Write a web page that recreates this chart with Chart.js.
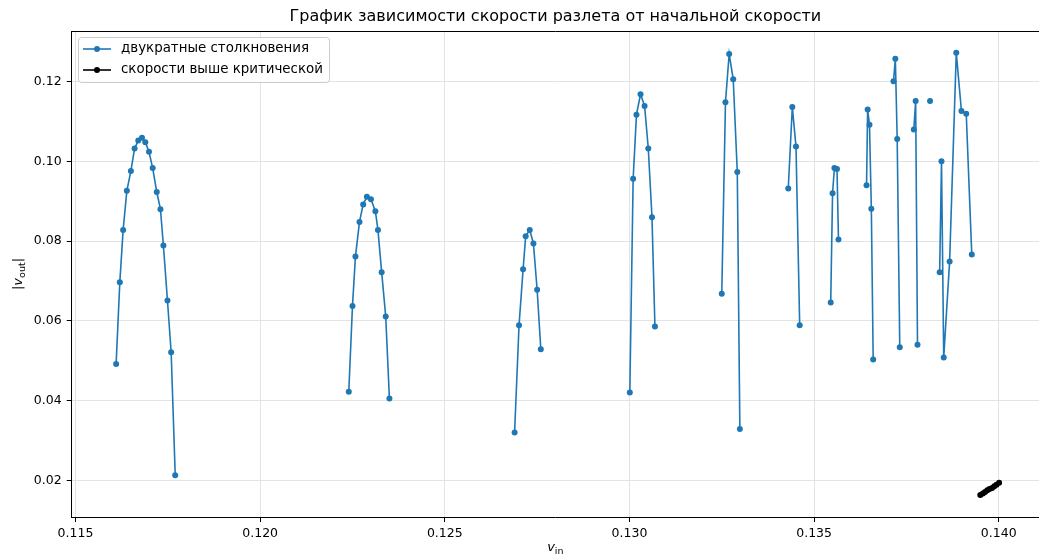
<!DOCTYPE html>
<html>
<head>
<meta charset="utf-8">
<script src="https://cdn.jsdelivr.net/npm/chart.js@4/dist/chart.umd.min.js"></script>
<style>
  html, body { margin: 0; padding: 0; background: #fff; }
  canvas { display: block; }
</style>
</head>
<body>
<canvas id="c" width="1039" height="556"></canvas>
<script>
// Initial speed v_in and scatter speed |v_out| for double collisions.
// null entries separate the branches so the line breaks between them.
const vIn = [
  0.11610, 0.11620, 0.11629, 0.11639, 0.11650, 0.11660, 0.11670, 0.11680, 0.11689,
  0.11699, 0.11709, 0.11720, 0.11730, 0.11738, 0.11749, 0.11759, 0.11770,
  null,
  0.12240, 0.12250, 0.12258, 0.12269, 0.12279, 0.12289, 0.12300, 0.12312, 0.12319,
  0.12329, 0.12340, 0.12350,
  null,
  0.12689, 0.12701, 0.12712, 0.12719, 0.12730, 0.12740, 0.12750, 0.12760,
  null,
  0.13001, 0.13010, 0.13019, 0.13030, 0.13041, 0.13051, 0.13061, 0.13069,
  null,
  0.13250, 0.13260, 0.13270, 0.13281, 0.13292, 0.13299,
  null,
  0.13430, 0.13441, 0.13451, 0.13461,
  null,
  0.13545, 0.13550, 0.13555, 0.13562, 0.13566,
  null,
  0.13642, 0.13645, 0.13650, 0.13655, 0.13660,
  null,
  0.13715, 0.13720, 0.13725, 0.13732,
  null,
  0.13770, 0.13775, 0.13780,
  null,
  0.13814,
  null,
  0.13840, 0.13845, 0.13851, 0.13867, 0.13885, 0.13899, 0.13912, 0.13927
];
const vOut = [
  0.0492, 0.0697, 0.0828, 0.0926, 0.0976, 0.1032, 0.1052, 0.1059, 0.1048,
  0.1024, 0.0983, 0.0923, 0.0880, 0.0789, 0.0651, 0.0521, 0.0213,
  null,
  0.0422, 0.0637, 0.0761, 0.0848, 0.0892, 0.0911, 0.0905, 0.0875, 0.0828,
  0.0722, 0.0611, 0.0405,
  null,
  0.0320, 0.0589, 0.0729, 0.0812, 0.0828, 0.0794, 0.0678, 0.0529,
  null,
  0.0420, 0.0956, 0.1117, 0.1168, 0.1139, 0.1032, 0.0860, 0.0586,
  null,
  0.0668, 0.1148, 0.1269, 0.1206, 0.0973, 0.0329,
  null,
  0.0932, 0.1136, 0.1037, 0.0589,
  null,
  0.0646, 0.0920, 0.0983, 0.0981, 0.0804,
  null,
  0.0940, 0.1130, 0.1092, 0.0881, 0.0503,
  null,
  0.1201, 0.1257, 0.1056, 0.0534,
  null,
  0.1080, 0.1151, 0.0540,
  null,
  0.1151,
  null,
  0.0722, 0.1000, 0.0508, 0.0749, 0.1272, 0.1126, 0.1119, 0.0766
];

// Speeds above the critical one
const vInCrit  = [0.13950, 0.13957, 0.13963, 0.13969, 0.13975, 0.13982, 0.13988, 0.13994, 0.14001];
const vOutCrit = [0.0163, 0.0167, 0.0171, 0.0175, 0.0178, 0.0181, 0.0185, 0.0189, 0.0194];

const seriesLabels = ['двукратные столкновения', 'скорости выше критической'];
const titleText = 'График зависимости скорости разлета от начальной скорости';

const xTicks = [0.115, 0.120, 0.125, 0.130, 0.135, 0.140];
const yTicks = [0.02, 0.04, 0.06, 0.08, 0.10, 0.12];

const FONT = 'DejaVu Sans';
const BLUE = '#1f77b4';

const toPoints = (xs, ys) => xs.map((x, i) => ({ x: x, y: ys[i] }));

// Title, axis labels, top spine and legend box
const decor = {
  id: 'decor',
  afterDraw(chart) {
    const ctx = chart.ctx;
    const a = chart.chartArea;
    ctx.save();

    // top spine
    ctx.strokeStyle = '#000';
    ctx.lineWidth = 1;
    ctx.beginPath();
    ctx.moveTo(a.left, a.top + 0.5);
    ctx.lineTo(a.right, a.top + 0.5);
    ctx.stroke();

    // title
    ctx.fillStyle = '#000';
    ctx.font = '16px "' + FONT + '"';
    ctx.textAlign = 'center';
    ctx.textBaseline = 'middle';
    ctx.fillText(titleText, (a.left + a.right) / 2, 17);

    // x axis label: v_in
    const cx = (a.left + a.right) / 2;
    ctx.textBaseline = 'alphabetic';
    ctx.textAlign = 'left';
    ctx.font = 'italic 13px "' + FONT + '"';
    const wv = ctx.measureText('v').width;
    ctx.font = '9.5px "' + FONT + '"';
    const wIn = ctx.measureText('in').width;
    let x0 = cx - (wv + wIn) / 2;
    ctx.font = 'italic 13px "' + FONT + '"';
    ctx.fillText('v', x0, 551);
    ctx.font = '9.5px "' + FONT + '"';
    ctx.fillText('in', x0 + wv, 554);

    // y axis label: |v_out|
    ctx.save();
    ctx.translate(22, (a.top + a.bottom) / 2);
    ctx.rotate(-Math.PI / 2);
    ctx.font = '13px "' + FONT + '"';
    const wBar = ctx.measureText('|').width;
    ctx.font = 'italic 13px "' + FONT + '"';
    const wv2 = ctx.measureText('v').width;
    ctx.font = '9.5px "' + FONT + '"';
    const wOut = ctx.measureText('out').width;
    const total = 2 * wBar + wv2 + wOut;
    let px = -total / 2;
    ctx.font = '13px "' + FONT + '"';
    ctx.fillText('|', px, 0); px += wBar;
    ctx.font = 'italic 13px "' + FONT + '"';
    ctx.fillText('v', px, 0); px += wv2;
    ctx.font = '9.5px "' + FONT + '"';
    ctx.fillText('out', px, 3); px += wOut;
    ctx.font = '13px "' + FONT + '"';
    ctx.fillText('|', px, 0);
    ctx.restore();

    // legend
    const bx = 78.5, by = 37.5, bw = 251, bh = 45, r = 3;
    ctx.fillStyle = 'rgba(255,255,255,0.8)';
    ctx.strokeStyle = '#cccccc';
    ctx.lineWidth = 1;
    ctx.beginPath();
    ctx.roundRect(bx, by, bw, bh, r);
    ctx.fill();
    ctx.stroke();

    const rows = [
      { y: 49, color: BLUE, label: seriesLabels[0] },
      { y: 70, color: '#000', label: seriesLabels[1] }
    ];
    rows.forEach(row => {
      ctx.strokeStyle = row.color;
      ctx.lineWidth = 1.6;
      ctx.beginPath();
      ctx.moveTo(83, row.y);
      ctx.lineTo(111, row.y);
      ctx.stroke();
      ctx.fillStyle = row.color;
      ctx.beginPath();
      ctx.arc(97, row.y, 3, 0, Math.PI * 2);
      ctx.fill();
      ctx.fillStyle = '#000';
      ctx.font = '13.4px "' + FONT + '"';
      ctx.textAlign = 'left';
      ctx.textBaseline = 'middle';
      ctx.fillText(row.label, 121, row.y);
    });

    ctx.restore();
  }
};

new Chart(document.getElementById('c'), {
  type: 'line',
  data: {
    datasets: [
      {
        label: seriesLabels[0],
        data: toPoints(vIn, vOut),
        borderColor: BLUE,
        backgroundColor: BLUE,
        borderWidth: 1.6,
        pointRadius: 3,
        pointBorderWidth: 0,
        pointBackgroundColor: BLUE,
        spanGaps: false,
        tension: 0
      },
      {
        label: seriesLabels[1],
        data: toPoints(vInCrit, vOutCrit),
        borderColor: '#000',
        backgroundColor: '#000',
        borderWidth: 1.6,
        pointRadius: 3,
        pointBorderWidth: 0,
        pointBackgroundColor: '#000',
        tension: 0
      }
    ]
  },
  options: {
    responsive: false,
    animation: false,
    devicePixelRatio: 1,
    layout: { autoPadding: false, padding: { top: 31, left: 0, right: 0, bottom: 0 } },
    plugins: {
      legend: { display: false },
      title: { display: false },
      tooltip: { enabled: false }
    },
    scales: {
      x: {
        type: 'linear',
        min: 0.114897,
        max: 0.14109,
        afterFit(s) { s.height = 39; },
        afterBuildTicks(s) { s.ticks = xTicks.map(v => ({ value: v })); },
        ticks: {
          padding: 4,
          color: '#000',
          font: { family: FONT, size: 12.5 },
          maxRotation: 0,
          autoSkip: false,
          callback: v => Number(v).toFixed(3)
        },
        grid: {
          color: '#e3e3e3',
          lineWidth: 1,
          tickLength: 5,
          tickColor: '#000',
          drawTicks: true
        },
        border: { display: true, color: '#000', width: 1 }
      },
      y: {
        type: 'linear',
        min: 0.0108,
        max: 0.13268,
        afterFit(s) { s.width = 71.7; },
        afterBuildTicks(s) { s.ticks = yTicks.map(v => ({ value: v })); },
        ticks: {
          padding: 5,
          color: '#000',
          font: { family: FONT, size: 12.5 },
          autoSkip: false,
          callback: v => Number(v).toFixed(2)
        },
        grid: {
          color: '#e3e3e3',
          lineWidth: 1,
          tickLength: 5,
          tickColor: '#000',
          drawTicks: true
        },
        border: { display: true, color: '#000', width: 1 }
      }
    }
  },
  plugins: [decor]
});
</script>
</body>
</html>
